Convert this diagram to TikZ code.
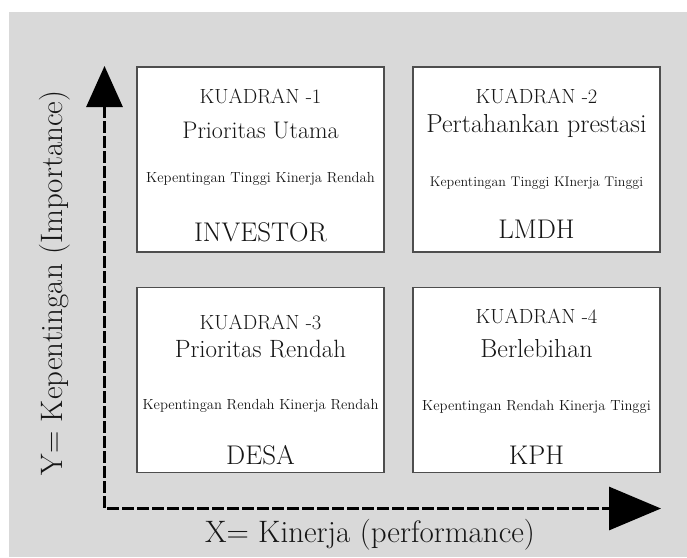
\documentclass[tikz,border=0pt]{standalone}
\usetikzlibrary{arrows.meta,calc,positioning}
\definecolor{latar}{HTML}{D9D9D9}
\definecolor{bingkai}{HTML}{4E4E4E}
\definecolor{tinta}{HTML}{161616}
\tikzset{
  kotak/.style={draw=bingkai, fill=white, line width=1.2pt, minimum width=247pt, minimum height=185pt, inner sep=0pt},
  judul/.style={anchor=base, text=tinta, font=\fontsize{20.5}{24}\selectfont},
  prioritas/.style={anchor=base, text=tinta, font=\fontsize{25}{29}\selectfont},
  ket/.style={anchor=base, text=tinta, font=\fontsize{14.6}{17}\selectfont},
  aktor/.style={anchor=base, text=tinta, font=\fontsize{27}{32}\selectfont},
  sumbulabel/.style={anchor=base, text=tinta, font=\fontsize{31}{36}\selectfont},
  sumbu/.style={line width=3pt, dash pattern=on 12pt off 3pt,
    {Triangle[length=41pt,width=36pt]}-{Triangle[length=52pt,width=43pt]}}
}
\begin{document}
\begin{tikzpicture}[x=1pt,y=-1pt]
  \useasboundingbox (0,0) rectangle (687,557);
  \fill[latar] (9,12) rectangle (687,557);
  % kuadran
  \node[kotak] (q1) at (260.5,159.5) {};
  \node[kotak] (q2) at (536.5,159.5) {};
  \node[kotak] (q3) at (260.5,380) {};
  \node[kotak] (q4) at (536.5,380) {};
  % kuadran 1
  \node[judul] (q1a) at ([yshift=-37pt]q1.north) {KUADRAN -1};
  \node[prioritas, font=\fontsize{24}{28}\selectfont] (q1b) at ([yshift=-72pt]q1.north) {Prioritas Utama};
  \node[ket] (q1c) at ([yshift=-116pt]q1.north) {Kepentingan Tinggi Kinerja Rendah};
  \node[aktor] (q1d) at ([yshift=-175pt]q1.north) {INVESTOR};
  % kuadran 2
  \node[judul] (q2a) at ([yshift=-37pt]q2.north) {KUADRAN -2};
  \node[prioritas, font=\fontsize{26}{30}\selectfont] (q2b) at ([yshift=-66pt]q2.north) {Pertahankan prestasi};
  \node[ket, font=\fontsize{14}{17}\selectfont] (q2c) at ([yshift=-120pt]q2.north) {Kepentingan Tinggi KInerja Tinggi};
  \node[aktor] (q2d) at ([yshift=-172pt]q2.north) {LMDH};
  % kuadran 3
  \node[judul] (q3a) at ([yshift=-43pt]q3.north) {KUADRAN -3};
  \node[prioritas] (q3b) at ([yshift=-71pt]q3.north) {Prioritas Rendah};
  \node[ket] (q3c) at ([yshift=-123pt]q3.north) {Kepentingan Rendah Kinerja Rendah};
  \node[aktor] (q3d) at ([yshift=-178pt]q3.north) {DESA};
  % kuadran 4
  \node[judul] (q4a) at ([yshift=-37pt]q4.north) {KUADRAN -4};
  \node[prioritas, font=\fontsize{26}{30}\selectfont] (q4b) at ([yshift=-71pt]q4.north) {Berlebihan};
  \node[ket] (q4c) at ([yshift=-124pt]q4.north) {Kepentingan Rendah Kinerja Tinggi};
  \node[aktor] (q4d) at ([yshift=-178pt]q4.north) {KPH};
  % sumbu
  \coordinate (O) at (104.5,508.5);
  \coordinate (ytip) at (104.5,66);
  \coordinate (xtip) at (661,508.5);
  \draw[sumbu] (ytip) -- (O) -- (xtip);
  \node[sumbulabel, rotate=90] (ylab) at (62,283) {Y= Kepentingan (Importance)};
  \node[sumbulabel] (xlab) at (370,542) {X= Kinerja (performance)};
\end{tikzpicture}
\end{document}
